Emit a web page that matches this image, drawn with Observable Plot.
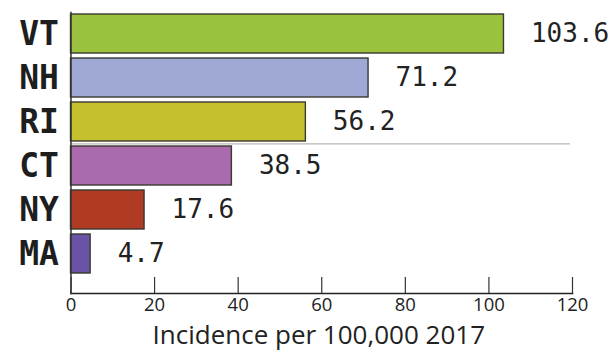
<!DOCTYPE html>
<html>
<head>
<meta charset="utf-8">
<script src="https://cdn.jsdelivr.net/npm/d3@7"></script>
<script src="https://cdn.jsdelivr.net/npm/@observablehq/plot@0.6"></script>
<style>
  html, body { margin: 0; padding: 0; background: #fff; }
</style>
</head>
<body>
<div id="chart"></div>
<script>
const states = ["VT", "NH", "RI", "CT", "NY", "MA"];
const incidence = [103.6, 71.2, 56.2, 38.5, 17.6, 4.7];
const barColors = ["#9bc23f", "#a0a8d5", "#c4c02e", "#aa6aae", "#b03b24", "#6a52a5"];
const xTicks = [0, 20, 40, 60, 80, 100, 120];
const xLabel = "Incidence per 100,000 2017";
const separatorAfter = ["RI"];

const data = states.map((s, i) => ({state: s, value: incidence[i], color: barColors[i]}));

const chart = Plot.plot({
  width: 612,
  height: 352,
  marginLeft: 70.5,
  marginRight: 40,
  marginTop: 12,
  marginBottom: 59,
  style: {background: "#fff"},
  x: {domain: [0, 120]},
  y: {domain: states, range: [12, 275.5], paddingInner: 0.107, paddingOuter: 0},
  marks: [
    Plot.ruleY(separatorAfter, {y: d => d, x1: 0, x2: 119.5, dy: 21.8, stroke: "#b8b8b8", strokeWidth: 1.2}),
    Plot.barX(data, {y: "state", x: "value", fill: "color", stroke: "#3a3a30", strokeWidth: 1.4}),
    Plot.text(data, {y: "state", x: "value", text: d => d.value.toFixed(1), textAnchor: "start", dx: 27, fontFamily: "DejaVu Sans Mono", fontSize: 26, fill: "#222"}),
    Plot.axisY({tickSize: 0, tickPadding: 12, fontFamily: "DejaVu Sans Mono", fontWeight: "bold", fontSize: 33, fill: "#1e1e1e", label: null}),
    Plot.axisX({ticks: xTicks, tickSize: -16, tickFormat: () => "", stroke: "#333", strokeWidth: 1.2, label: null}),
    Plot.axisX({ticks: xTicks, tickSize: 0, tickPadding: 4, fontFamily: "Open Sans", fontSize: 18.5, fill: "#222", label: null}),
    Plot.frame({anchor: "bottom", stroke: "#222", strokeWidth: 1.6}),
    Plot.frame({anchor: "left", stroke: "#333", strokeWidth: 1.5}),
    Plot.text([xLabel], {frameAnchor: "bottom", lineAnchor: "middle", dy: 42, dx: -3, text: d => d, fontFamily: "Open Sans", fontSize: 26, fill: "#222"})
  ]
});
document.getElementById("chart").appendChild(chart);
</script>
</body>
</html>
